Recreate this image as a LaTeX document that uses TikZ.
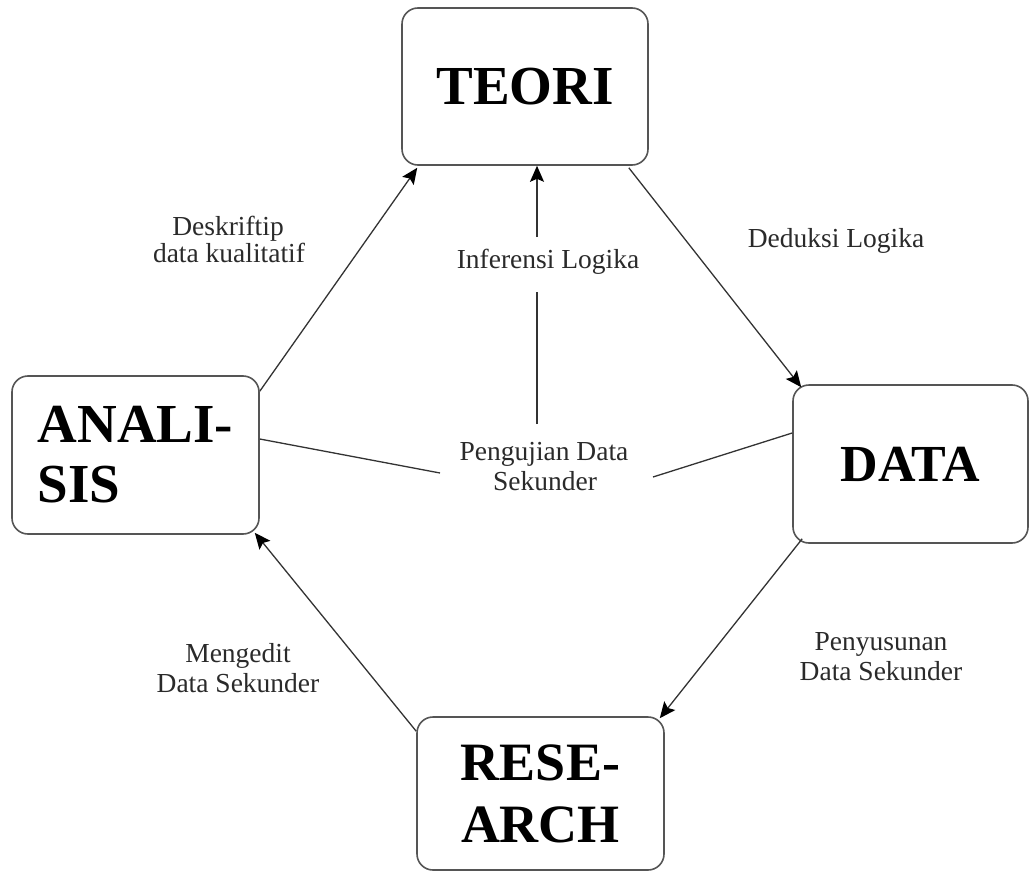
\documentclass[tikz,border=0pt]{standalone}
\usepackage{fontspec}
\setmainfont{Liberation Serif}
\usetikzlibrary{arrows.meta,calc}
\definecolor{boxline}{HTML}{555555}
\definecolor{conn}{HTML}{333333}
\definecolor{lbltext}{HTML}{2A2A2A}
\tikzset{
  bigbox/.style={draw=boxline, line width=1.6pt, rounded corners=16pt, rectangle, inner sep=0pt, text=black},
  conline/.style={draw=conn, line width=1.3pt},
  arr/.style={conline, -{Stealth[length=16pt,width=14pt,inset=3pt,color=black]}},
  lbl/.style={anchor=base, inner sep=0pt, text=lbltext, font=\fontsize{27.5}{30}\selectfont}
}
\begin{document}
\begin{tikzpicture}[x=1pt,y=-1pt]
\useasboundingbox (0,0) rectangle (1030,872);
% boxes
\node[bigbox, minimum width=246pt, minimum height=157pt, font=\fontsize{55}{61}\selectfont\bfseries] (teo) at (525,86.5) {TEORI};
\node[bigbox, minimum width=247pt, minimum height=158pt, align=left, font=\fontsize{55}{60}\selectfont\bfseries] (ana) at (135.5,455) {ANALI-\\SIS};
\node[bigbox, minimum width=235pt, minimum height=158pt, font=\fontsize{52}{60}\selectfont\bfseries] (dat) at (910.5,464) {DATA};
\node[bigbox, minimum width=247pt, minimum height=153pt, align=center, font=\fontsize{54}{62}\selectfont\bfseries] (res) at (540.5,793.5) {RESE-\\ARCH};
% labels
\node[lbl] (desk1) at (228,235) {Deskriftip};
\node[lbl] (desk2) at (229,262) {data kualitatif};
\node[lbl] (inf) at (548,268) {Inferensi Logika};
\node[lbl] (ded) at (836,247) {Deduksi Logika};
\node[lbl] (peng1) at (544,460) {Pengujian Data};
\node[lbl] (peng2) at (545,490) {Sekunder};
\node[lbl] (meng1) at (238,662) {Mengedit};
\node[lbl] (meng2) at (238,692) {Data Sekunder};
\node[lbl] (peny1) at (881,650) {Penyusunan};
\node[lbl] (peny2) at (881,680) {Data Sekunder};
% cycle arrows
\draw[arr] ($(ana.north east)+(0,16)$) -- ($(teo.south west)+(16,2)$);
\draw[arr] ($(teo.south east)+(-20,2)$) -- ($(dat.north west)+(9,3)$);
\draw[arr] ($(dat.south west)+(10,-5)$) -- ($(res.north east)+(-5,2)$);
\draw[arr] ($(res.north west)+(0,15)$) -- ($(ana.south east)+(-5,-2)$);
% central lines
\coordinate (v1) at (537,424);
\coordinate (v2) at (537,292);
\coordinate (v3) at (537,237);
\draw[conline] (v1) -- (v2);
\draw[arr] (v3) -- (teo.south -| v3);
\coordinate (hl) at (440,473);
\coordinate (hr) at (653,477);
\draw[conline] ($(ana.east)+(0,-16)$) -- (hl);
\draw[conline] ($(dat.west)+(0,-31)$) -- (hr);
\end{tikzpicture}
\end{document}
